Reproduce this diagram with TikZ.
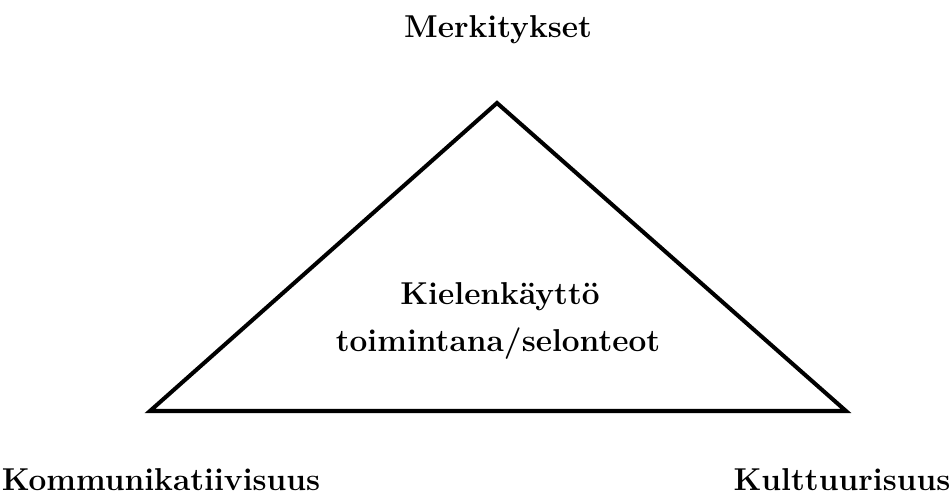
\documentclass[tikz,border=0pt]{standalone}
\usepackage{tikz}
\usetikzlibrary{positioning}

\tikzset{
  corner/.style={font=\fontsize{18}{22}\selectfont\bfseries, anchor=base},
  side/.style={line width=2.3pt}
}

\begin{document}
\begin{tikzpicture}[x=0.02cm, y=-0.02cm]
\useasboundingbox (0,0) rectangle (950,496);
\coordinate (top) at (497,103);
\coordinate (left) at (150,411);
\coordinate (right) at (846,411);
\draw[side] (top) -- (right) -- (left) -- cycle;
\node[corner] (merk) at (498,38) {Merkitykset};
\node[corner] (kiel) at (500,305) {Kielenkäyttö};
\node[corner] (toim) at (498,352) {toimintana/selonteot};
\node[corner] (komm) at (161,490) {Kommunikatiivisuus};
\node[corner] (kult) at (842,490) {Kulttuurisuus};
\end{tikzpicture}
\end{document}
